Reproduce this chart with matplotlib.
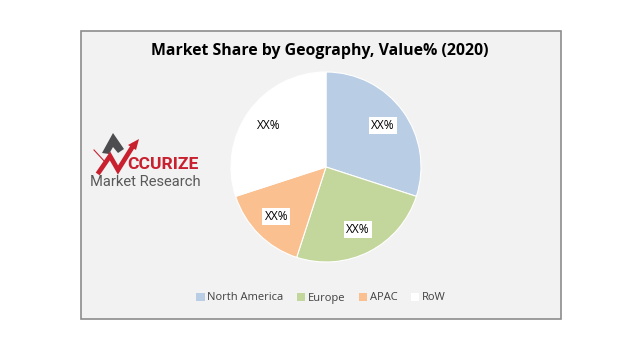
import matplotlib.pyplot as plt
from matplotlib.patches import Rectangle, Polygon

# data
regions = ["North America", "Europe", "APAC", "RoW"]
shares = [30, 25, 15, 30]
slice_labels = ["XX%", "XX%", "XX%", "XX%"]
colours = ["#B9CDE5", "#C3D69B", "#FAC090", "#FFFFFF"]
title = "Market Share by Geography, Value% (2020)"

W, H = 640, 357
fig = plt.figure(figsize=(W / 100, H / 100), dpi=100)
fig.patch.set_facecolor("white")

# overlay axes in pixel coords for the frame + logo
bg = fig.add_axes([0, 0, 1, 1])
bg.set_xlim(0, W)
bg.set_ylim(H, 0)
bg.axis("off")
bg.add_patch(Rectangle((80.5, 30.5), 480, 288, facecolor="#F2F2F2",
                       edgecolor="#8C8C8C", linewidth=1.2))

# logo: stylised A with arrow
bg.add_patch(Polygon([(102, 153), (113, 133), (124, 149), (118, 153),
                      (113, 147), (109, 154)], closed=True,
                     facecolor="#4D4D4F", edgecolor="none"))
bg.plot([99, 110, 118, 133], [172, 156, 170, 146], color="#C8202F",
        linewidth=3.4, solid_joinstyle="miter")
bg.add_patch(Polygon([(128, 145), (139, 139), (136, 150)], closed=True,
                     facecolor="#C8202F", edgecolor="none"))
bg.plot([94, 106], [150, 163], color="#C8202F", linewidth=0.8)
bg.text(127.5, 164.5, "CCURIZE", color="#C8202F", fontsize=12.6, fontweight="bold",
        family="Roboto", va="center", ha="left")
bg.text(90, 182.5, "Market Research", color="#595959", fontsize=10.6,
        family="Roboto", va="center", ha="left")

fig.text(320 / W, 1 - 51 / H, title, ha="center", va="center",
         fontsize=11.4, fontweight="bold", family="Open Sans", color="black")

# pie
cx, cy, r = 326, 167, 95
ax = fig.add_axes([(cx - r) / W, (H - cy - r) / H, 2 * r / W, 2 * r / H])
wedges, texts = ax.pie(shares, labels=slice_labels, colors=colours,
                       startangle=90, counterclock=False, labeldistance=0.74,
                       wedgeprops=dict(edgecolor="white", linewidth=0.8),
                       textprops=dict(fontsize=8.6, family="Open Sans", color="black"))
for i, t in enumerate(texts):
    t.set_ha("center")
    t.set_va("center")
    if i < 3:
        t.set_bbox(dict(facecolor="white", edgecolor="none", pad=1.5))
ax.set_xlim(-1, 1)
ax.set_ylim(-1, 1)
ax.set_aspect("equal")

leg = fig.legend(wedges, regions, loc="center", bbox_to_anchor=(321 / W, 1 - 298 / H),
                 ncol=4, frameon=False, handlelength=0.75, handleheight=0.75,
                 handletextpad=0.25, columnspacing=1.2,
                 prop=dict(family="Open Sans", size=8))
for t in leg.get_texts():
    t.set_color("#404040")
for h in leg.legend_handles:
    h.set_edgecolor("none")

fig.savefig("out.png", dpi=100)
